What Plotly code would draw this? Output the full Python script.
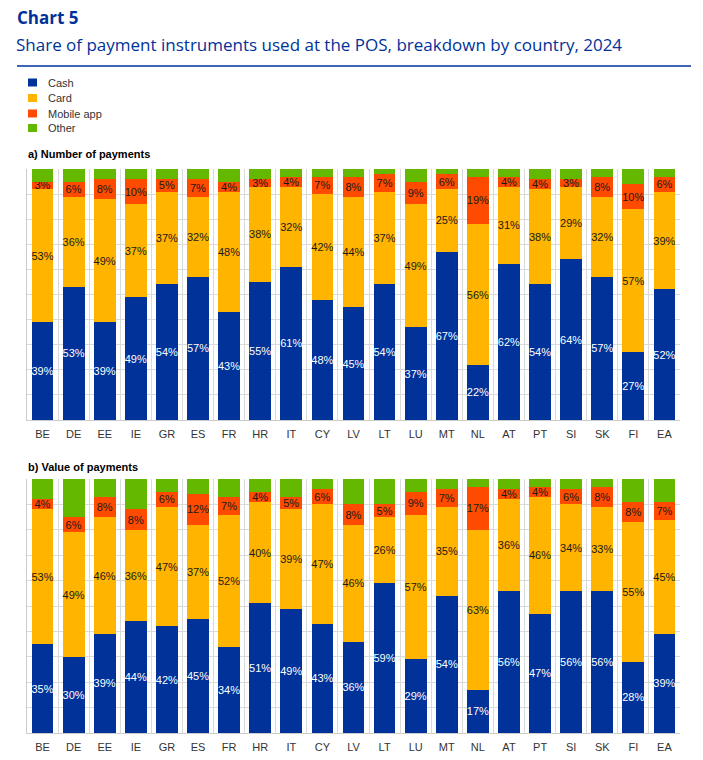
import plotly.graph_objects as go

countries = ["BE", "DE", "EE", "IE", "GR", "ES", "FR", "HR", "IT", "CY", "LV",
             "LT", "LU", "MT", "NL", "AT", "PT", "SI", "SK", "FI", "EA"]

# a) Number of payments (%)
num_cash   = [39, 53, 39, 49, 54, 57, 43, 55, 61, 48, 45, 54, 37, 67, 22, 62, 54, 64, 57, 27, 52]
num_card   = [53, 36, 49, 37, 37, 32, 48, 38, 32, 42, 44, 37, 49, 25, 56, 31, 38, 29, 32, 57, 39]
num_mobile = [3, 6, 8, 10, 5, 7, 4, 3, 4, 7, 8, 7, 9, 6, 19, 4, 4, 3, 8, 10, 6]
num_other  = [5, 5, 4, 4, 4, 4, 5, 4, 3, 3, 3, 2, 5, 2, 3, 3, 4, 4, 3, 6, 3]

# b) Value of payments (%)
val_cash   = [35, 30, 39, 44, 42, 45, 34, 51, 49, 43, 36, 59, 29, 54, 17, 56, 47, 56, 56, 28, 39]
val_card   = [53, 49, 46, 36, 47, 37, 52, 40, 39, 47, 46, 26, 57, 35, 63, 36, 46, 34, 33, 55, 45]
val_mobile = [4, 6, 8, 8, 6, 12, 7, 4, 5, 6, 8, 5, 9, 7, 17, 4, 4, 6, 8, 8, 7]
val_other  = [8, 15, 7, 12, 5, 6, 7, 5, 7, 4, 10, 10, 5, 4, 3, 4, 3, 4, 3, 9, 9]

series_names = ["Cash", "Card", "Mobile app", "Other"]
colors = ["#003299", "#FFB400", "#FF4B00", "#65B800"]
text_colors = ["#FFFFFF", "#1A1A1A", "#1A1A1A", None]

LABEL_FONT = "Liberation Sans Narrow, Arial Narrow, Liberation Sans, Arial"
AXIS_FONT = "Liberation Sans, Arial"
BLUE = "#003299"

# page body has an 8px margin: figure is sized to the visible area
OFF = 8
W, H = 703 - OFF, 760 - OFF


def px(x):
    return (x - OFF) / W


def py(y):
    return 1 - (y - OFF) / H


fig = go.Figure()

panels = [
    ("x", "y", [num_cash, num_card, num_mobile, num_other]),
    ("x2", "y2", [val_cash, val_card, val_mobile, val_other]),
]
for xa, ya, data in panels:
    for name, vals, col, tcol in zip(series_names, data, colors, text_colors):
        fig.add_trace(go.Bar(
            x=countries, y=vals, name=name, marker_color=col,
            marker_line_width=0,
            xaxis=xa, yaxis=ya, showlegend=False,
            texttemplate="%{y}%" if tcol else "",
            textposition="inside" if tcol else "none",
            insidetextanchor="middle", textangle=0,
            textfont=dict(color=tcol or "#000", size=11, family=LABEL_FONT),
            hoverinfo="x+y+name",
        ))

axis_common = dict(
    showgrid=True, gridcolor="#DADADA", gridwidth=1,
    showline=True, linecolor="#CCCCCC", linewidth=1,
    tickfont=dict(family=AXIS_FONT, size=11, color="#333333"),
    ticks="", zeroline=False, fixedrange=True,
)
xd = [px(27), px(680)]
fig.update_layout(
    width=W, height=H,
    margin=dict(l=0, r=0, t=0, b=0),
    paper_bgcolor="white", plot_bgcolor="white",
    barmode="stack", bargap=0.30,
    uniformtext=dict(minsize=11, mode="show"),
    xaxis=dict(domain=xd, anchor="y", tickson="boundaries", ticklabelstandoff=4, **axis_common),
    yaxis=dict(domain=[py(420), py(169)], anchor="x", range=[0, 100],
               dtick=10, showticklabels=False, **axis_common),
    xaxis2=dict(domain=xd, anchor="y2", tickson="boundaries", ticklabelstandoff=4, **axis_common),
    yaxis2=dict(domain=[py(733), py(479)], anchor="x2", range=[0, 100],
                dtick=10, showticklabels=False, **axis_common),
    showlegend=False,
)

# legend (manual, compact like the reference)
legend_y = [82.5, 98, 113.5, 128]
for name, col, ly in zip(series_names, colors, legend_y):
    fig.add_shape(type="rect", xref="paper", yref="paper",
                  x0=px(28), x1=px(37), y0=py(ly + 4), y1=py(ly - 4),
                  fillcolor=col, line_width=0)
    fig.add_annotation(text=name, xref="paper", yref="paper",
                       x=px(46), y=py(ly), xanchor="left", yanchor="middle",
                       showarrow=False,
                       font=dict(family=AXIS_FONT, size=11, color="#333333"))

fig.add_annotation(text="<b>Chart 5</b>", xref="paper", yref="paper",
                   x=px(15), y=py(17), xanchor="left", yanchor="middle",
                   showarrow=False, font=dict(family="Open Sans", size=17, color=BLUE))
fig.add_annotation(text="Share of payment instruments used at the POS, breakdown by country, 2024",
                   xref="paper", yref="paper", x=px(14), y=py(45),
                   xanchor="left", yanchor="middle", showarrow=False,
                   font=dict(family="Open Sans", size=17, color=BLUE))
fig.add_shape(type="line", xref="paper", yref="paper",
              x0=px(17), x1=px(691), y0=py(66), y1=py(66),
              line=dict(color=BLUE, width=1.5))
fig.add_annotation(text="<b>a) Number of payments</b>", xref="paper", yref="paper",
                   x=px(26), y=py(154), xanchor="left", yanchor="middle",
                   showarrow=False, font=dict(family=AXIS_FONT, size=11, color="#000000"))
fig.add_annotation(text="<b>b) Value of payments</b>", xref="paper", yref="paper",
                   x=px(26), y=py(467), xanchor="left", yanchor="middle",
                   showarrow=False, font=dict(family=AXIS_FONT, size=11, color="#000000"))

fig.write_html("out.html")
